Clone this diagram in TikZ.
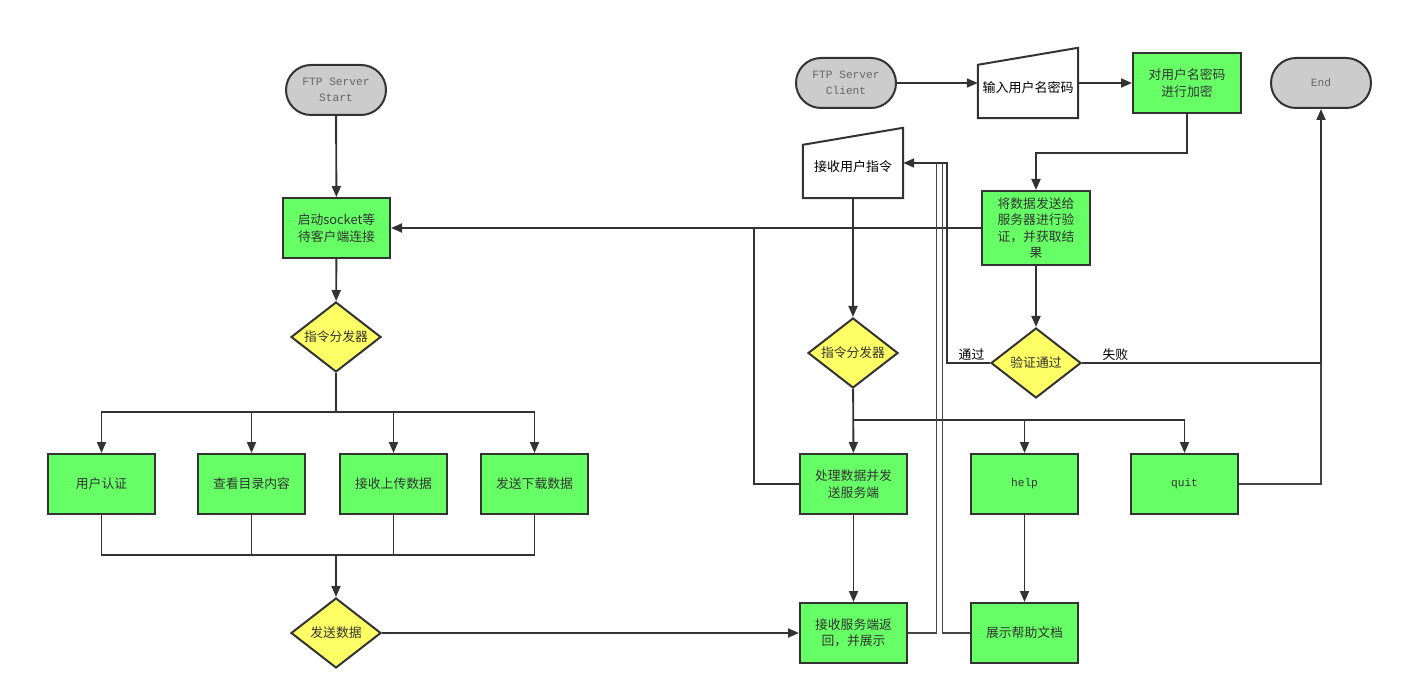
\documentclass[tikz,border=0pt]{standalone}
\usepackage{fontspec}
\setmonofont{Liberation Mono}
\newfontfamily\cjk{Noto Sans CJK SC}
\usetikzlibrary{shapes.geometric,arrows.meta,calc}

\definecolor{boxgreen}{HTML}{66FF66}
\definecolor{decyellow}{HTML}{FFFF66}
\definecolor{termgray}{HTML}{CCCCCC}
\definecolor{darkline}{HTML}{333333}
\definecolor{softline}{HTML}{444444}

\begin{document}
\begin{tikzpicture}[x=1pt, y=-1pt,
	box/.style={rectangle, draw=darkline, line width=2pt, fill=boxgreen, minimum width=107pt, minimum height=60pt, inner sep=1pt, align=center, text=darkline, font=\cjk\fontsize{12.8}{16.5}\selectfont},
	dec/.style={diamond, draw=darkline, line width=2pt, fill=decyellow, minimum width=90pt, minimum height=70pt, aspect=1.3, inner sep=0pt, text=darkline, font=\cjk\fontsize{12.8}{16}\selectfont},
	term/.style={rectangle, rounded corners=25pt, draw=darkline, line width=2pt, fill=termgray, minimum width=100pt, minimum height=50pt, align=center, text=black!60, font=\ttfamily\fontsize{11.2}{16}\selectfont},
	manual/.style={rectangle, minimum width=100pt, minimum height=70pt, inner sep=0pt},
	mtext/.style={font=\cjk\fontsize{13}{16}\selectfont, inner sep=0pt},
	arr/.style={draw=darkline, line width=1.9pt, -{Triangle[length=11pt, width=9pt]}},
	link/.style={draw=darkline, line width=1.9pt},
	thin/.style={draw=softline, line width=1.4pt},
	lbl/.style={font=\cjk\fontsize{12.8}{14}\selectfont, inner sep=2pt}
]
	\useasboundingbox (0,0) rectangle (1402,700);

	% Server side
	\node[term] (sstart) at (336,90) {FTP Server\\Start};
	\node[box] (listen) at (336.5,228) {启动socket等\\待客户端连接};
	\node[dec] (sdisp) at (336,337) {指令分发器};
	\node[box] (auth) at (101.5,484) {用户认证};
	\node[box] (ls) at (251.5,484) {查看目录内容};
	\node[box] (up) at (393.5,484) {接收上传数据};
	\node[box] (down) at (534.5,484) {发送下载数据};
	\node[dec] (send) at (336,633) {发送数据};

	% Client side
	\node[term] (cstart) at (846,83) {FTP Server\\Client};
	\node[manual] (inp) at (1028,83) {};
	\node[mtext] (inptext) at ($(inp)+(0,5)$) {输入用户名密码};
	\node[box, minimum width=108pt] (enc) at (1187,83) {对用户名密码\\进行加密};
	\node[term] (cend) at (1321,83) {End};
	\node[manual] (cmd) at (853,163) {};
	\node[mtext] (cmdtext) at ($(cmd)+(0,4)$) {接收用户指令};
	\node[box, minimum width=108pt, minimum height=74pt] (verify) at (1036,228) {将数据发送给\\服务器进行验\\证，并获取结\\果};
	\node[dec] (ok) at (1036,363) {验证通过};
	\node[dec] (cdisp) at (853,353) {指令分发器};
	\node[box] (proc) at (853.5,484) {处理数据并发\\送服务端};
	\node[box, font=\ttfamily\fontsize{11.2}{14}\selectfont] (help) at (1024.5,484) {help};
	\node[box, font=\ttfamily\fontsize{11.2}{14}\selectfont] (quit) at (1184.5,484) {quit};
	\node[box] (recv) at (853.5,633) {接收服务端返\\回，并展示};
	\node[box] (doc) at (1024.5,633) {展示帮助文档};

	% manual input outlines
	\foreach \m in {inp,cmd}
		\draw[line width=2pt, draw=darkline] ($(\m.north west)+(0,17)$) -- (\m.north east) -- (\m.south east) -- (\m.south west) -- cycle;

	\coordinate (sbus) at (336,412);
	\coordinate (sjoin) at (336,555);
	\coordinate (cbus) at (853,420);
	\coordinate (back) at (754,228);

	% Server edges
	\draw[arr] (sstart) -- (listen);
	\draw[arr] (listen) -- (sdisp);
	\draw[link] (sdisp.south) -- (sbus);
	\foreach \n in {auth,ls,up,down}
		\draw[arr] (sbus) -| (\n.north);
	\foreach \n in {auth,ls,up,down}
		\draw[link] (\n.south) |- (sjoin);
	\draw[arr] (sjoin) -- (send);
	\draw[arr] (send) -- (recv);

	% Client edges
	\draw[arr] (cstart) -- (cstart -| inp.west);
	\draw[arr] (inp.east |- enc) -- (enc);
	\draw[arr] (enc.south) -- ++(0,39) -| (verify.north);
	\draw[arr] (verify.west) -- (listen.east);
	\draw[arr] (verify) -- (ok);
	\draw[arr] (ok.west) -- ++(-43,0) node[lbl, midway, above, xshift=3pt] {通过} |- (cmd.east);
	\draw[arr] (ok.east) -| node[lbl, pos=0.07, above] {失败} (cend.south);
	\draw[arr] (cmd.south) -- (cdisp.north);
	\draw[arr] (cdisp) -- (proc);
	\draw[arr] (cbus) -| (help.north);
	\draw[arr] (cbus) -| (quit.north);
	\draw[link] (proc.west) -| (back);
	\draw[arr] (proc) -- (recv);
	\draw[arr] (help) -- (doc);
	\draw[thin] (quit.east) -| (cend.south |- ok.east);
	\draw[thin] (recv.east) -| ($(cmd.east)+(33,0)$);
	\draw[thin] (doc.west) -| ($(cmd.east)+(39,0)$);
\end{tikzpicture}
\end{document}
